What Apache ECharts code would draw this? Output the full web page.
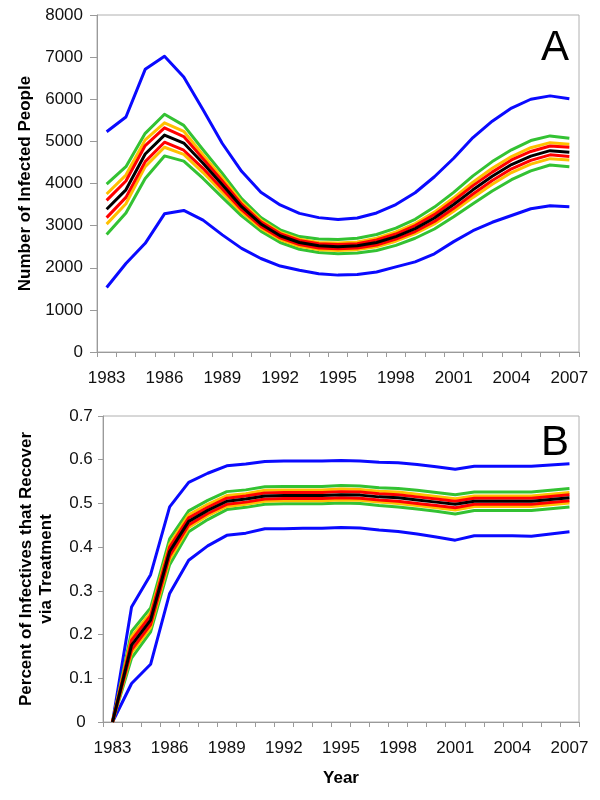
<!DOCTYPE html>
<html><head><meta charset="utf-8">
<script src="https://cdn.jsdelivr.net/npm/echarts@6/dist/echarts.min.js"></script>
<style>html,body{margin:0;padding:0;background:#fff}#c{width:600px;height:800px}</style>
</head><body><div id="c"></div>
<script>
const years = ['1983','1984','1985','1986','1987','1988','1989','1990','1991','1992','1993','1994','1995','1996','1997','1998','1999','2000','2001','2002','2003','2004','2005','2006','2007'];
const ticksA = [0,1000,2000,3000,4000,5000,6000,7000,8000];
const ticksB = [0,0.1,0.2,0.3,0.4,0.5,0.6,0.7];

// Panel A: number of infected people
const blueHiA   = [5230,5580,6710,7020,6530,5750,4950,4290,3790,3490,3290,3190,3145,3180,3300,3500,3780,4160,4600,5090,5480,5790,6000,6080,6010];
const greenHiA  = [3985,4400,5190,5645,5380,4800,4240,3640,3190,2900,2740,2680,2670,2700,2790,2940,3150,3440,3790,4180,4520,4800,5020,5130,5075];
const yellowHiA = [3750,4200,5035,5440,5240,4680,4130,3560,3130,2840,2680,2600,2590,2610,2700,2850,3050,3320,3660,4030,4360,4640,4850,4970,4930];
const redHiA    = [3600,4060,4900,5320,5115,4590,4060,3510,3090,2810,2650,2570,2550,2570,2660,2800,3000,3260,3590,3950,4270,4560,4760,4890,4860];
const blackA    = [3390,3850,4700,5150,4960,4480,3970,3450,3040,2760,2600,2520,2500,2520,2600,2740,2930,3180,3500,3850,4170,4450,4650,4780,4740];
const redLoA    = [3190,3670,4520,4980,4790,4360,3870,3380,2980,2710,2550,2470,2450,2470,2540,2680,2860,3100,3410,3750,4070,4350,4550,4680,4640];
const yellowLoA = [3035,3520,4400,4860,4690,4260,3790,3320,2940,2670,2510,2430,2410,2430,2500,2630,2810,3040,3340,3670,3980,4260,4460,4590,4560];
const greenLoA  = [2790,3300,4120,4655,4530,4120,3670,3230,2870,2600,2440,2360,2330,2350,2410,2530,2700,2920,3210,3520,3820,4090,4300,4440,4400];
const blueLoA   = [1530,2100,2580,3280,3360,3130,2780,2460,2220,2040,1940,1860,1825,1840,1900,2020,2140,2330,2620,2880,3080,3240,3400,3470,3450];

// Panel B: fraction of infectives recovering via treatment
const blueHiB   = [0,0.263,0.337,0.492,0.548,0.569,0.586,0.590,0.596,0.597,0.597,0.597,0.598,0.597,0.594,0.593,0.589,0.584,0.578,0.585,0.585,0.585,0.585,0.588,0.591];
const greenHiB  = [0,0.207,0.261,0.419,0.483,0.507,0.527,0.531,0.538,0.539,0.539,0.539,0.541,0.540,0.536,0.534,0.530,0.525,0.520,0.526,0.526,0.526,0.526,0.530,0.534];
const yellowHiB = [0,0.195,0.250,0.407,0.474,0.498,0.518,0.522,0.530,0.531,0.531,0.531,0.533,0.532,0.528,0.526,0.521,0.516,0.511,0.517,0.517,0.517,0.517,0.521,0.525];
const redHiB    = [0,0.187,0.243,0.400,0.467,0.491,0.512,0.517,0.524,0.525,0.525,0.525,0.527,0.526,0.522,0.520,0.515,0.510,0.505,0.512,0.512,0.512,0.512,0.516,0.520];
const blackB    = [0,0.176,0.233,0.390,0.459,0.484,0.505,0.510,0.517,0.518,0.518,0.518,0.520,0.519,0.515,0.513,0.508,0.503,0.498,0.505,0.505,0.505,0.505,0.509,0.513];
const redLoB    = [0,0.165,0.223,0.380,0.451,0.477,0.498,0.503,0.510,0.511,0.511,0.511,0.513,0.512,0.508,0.505,0.500,0.495,0.490,0.498,0.498,0.498,0.498,0.502,0.506];
const yellowLoB = [0,0.158,0.216,0.372,0.445,0.472,0.493,0.498,0.505,0.506,0.506,0.506,0.508,0.507,0.503,0.500,0.495,0.490,0.485,0.493,0.493,0.493,0.493,0.497,0.501];
const greenLoB  = [0,0.146,0.206,0.360,0.435,0.463,0.486,0.491,0.498,0.499,0.499,0.499,0.501,0.500,0.495,0.492,0.487,0.482,0.476,0.484,0.484,0.484,0.484,0.488,0.492];
const blueLoB   = [0,0.088,0.132,0.294,0.370,0.403,0.427,0.432,0.442,0.442,0.443,0.443,0.445,0.444,0.439,0.436,0.430,0.423,0.416,0.426,0.426,0.426,0.425,0.430,0.435];

const BLUE='#0a0aff', GREEN='#33c233', YELLOW='#ffc000', RED='#ff0000', BLACK='#000000';
const FONT = '"Liberation Sans", Arial, Helvetica, sans-serif';
const AXC = '#9a9a9a';

function ln(data, color, idx, z){
  return {type:'line', data:data, xAxisIndex:idx, yAxisIndex:idx, symbol:'none', showSymbol:false,
    lineStyle:{color:color, width:3, join:'round'}, itemStyle:{color:color}, z:z, silent:true, animation:false};
}
function xAx(idx, name){
  return {type:'category', gridIndex:idx, data:years, boundaryGap:true,
    axisLine:{show:true, lineStyle:{color:AXC, width:1}},
    axisTick:{show:true, interval:0, length:5, inside:false, lineStyle:{color:AXC}},
    axisLabel:{interval:2, fontSize:17, color:'#111', fontFamily:FONT, margin:18},
    splitLine:{show:false},
    name:name, nameLocation:'middle', nameGap:48,
    nameTextStyle:{fontSize:17, fontWeight:'bold', color:'#000', fontFamily:FONT}};
}
const chart = echarts.init(document.getElementById('c'), null, {renderer:'canvas'});
chart.setOption({
  animation:false,
  backgroundColor:'#fff',
  grid:[
    {left:97, top:15, width:482, height:337, show:true, borderColor:'#b0b0b0', borderWidth:1, containLabel:false},
    {left:103, top:416, width:476, height:306, show:true, borderColor:'#b0b0b0', borderWidth:1, containLabel:false}
  ],
  xAxis:[ xAx(0, ''), xAx(1, 'Year') ],
  yAxis:[
    {type:'value', gridIndex:0, min:ticksA[0], max:ticksA[ticksA.length-1], interval:1000,
      axisLine:{show:true, lineStyle:{color:AXC}}, axisTick:{show:true, length:7, lineStyle:{color:AXC}},
      axisLabel:{fontSize:17, color:'#111', fontFamily:FONT, margin:14, formatter:function(v){return String(v);}}, splitLine:{show:false},
      name:'Number of Infected People', nameLocation:'middle', nameGap:59,
      nameTextStyle:{fontSize:17, fontWeight:'bold', color:'#000', fontFamily:FONT}},
    {type:'value', gridIndex:1, min:ticksB[0], max:ticksB[ticksB.length-1], interval:0.1,
      axisLine:{show:true, lineStyle:{color:AXC}}, axisTick:{show:true, length:5, lineStyle:{color:AXC}},
      axisLabel:{fontSize:17, color:'#111', fontFamily:FONT, margin:22, align:'center', formatter:function(v){return String(Math.round(v*10)/10);}}, splitLine:{show:false},
      name:'Percent of Infectives that Recover\nvia Treatment', nameLocation:'middle', nameGap:47,
      nameTextStyle:{fontSize:17, fontWeight:'bold', color:'#000', fontFamily:FONT, lineHeight:20}}
  ],
  graphic:[
    {type:'text', left:541, top:27, style:{text:'A', fontSize:42, fill:'#000', fontFamily:FONT}},
    {type:'text', left:541, top:422, style:{text:'B', fontSize:42, fill:'#000', fontFamily:FONT}}
  ],
  series:[
    ln(blueHiA,BLUE,0,2), ln(blueLoA,BLUE,0,2),
    ln(greenHiA,GREEN,0,3), ln(greenLoA,GREEN,0,3),
    ln(yellowHiA,YELLOW,0,4), ln(yellowLoA,YELLOW,0,4),
    ln(redHiA,RED,0,5), ln(redLoA,RED,0,5),
    ln(blackA,BLACK,0,6),
    ln(blueHiB,BLUE,1,2), ln(blueLoB,BLUE,1,2),
    ln(greenHiB,GREEN,1,3), ln(greenLoB,GREEN,1,3),
    ln(yellowHiB,YELLOW,1,4), ln(yellowLoB,YELLOW,1,4),
    ln(redHiB,RED,1,5), ln(redLoB,RED,1,5),
    ln(blackB,BLACK,1,6)
  ]
});
</script></body></html>
